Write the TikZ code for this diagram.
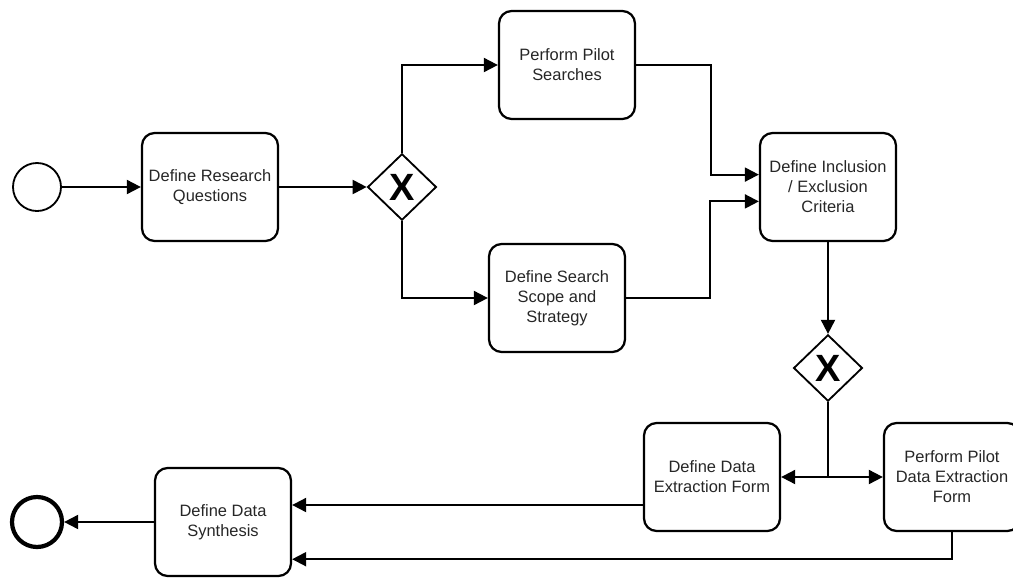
\documentclass[tikz,border=0pt]{standalone}
\usepackage{fontspec}
\setmainfont{Liberation Sans}
\usetikzlibrary{arrows.meta,shapes.geometric}

\tikzset{
  task/.style={draw,line width=1.6pt,rounded corners=9pt,minimum width=3.4cm,minimum height=2.7cm,
    align=center,font=\fontsize{11.7}{14.2}\selectfont,text=black!85},
  gateway/.style={draw,diamond,line width=1.3pt,inner sep=0pt,minimum width=1.72cm,minimum height=1.66cm,
    font=\fontsize{27}{27}\selectfont\bfseries},
  flow/.style={line width=1.4pt,-{Triangle[length=10pt,width=10pt]}},
  startevent/.style={draw,circle,line width=1.3pt,minimum size=1.2cm,inner sep=0pt},
  endevent/.style={draw,circle,line width=3pt,minimum size=1.25cm,inner sep=0pt}
}

\begin{document}
\begin{tikzpicture}[x=0.025cm,y=-0.025cm]
        \useasboundingbox (0,0) rectangle (1013,579);
        %% Events and tasks
        \node[startevent] (start) at (37,187) {};
        \node[task] (questions) at (210,187) {Define Research\\Questions};
        \node[gateway] (gwa) at (402,187) {X};
        \node[task] (pilot) at (567,65) {Perform Pilot\\Searches};
        \node[task] (scope) at (557,298) {Define Search\\Scope and\\Strategy};
        \node[task] (criteria) at (828,187) {Define Inclusion\\/ Exclusion\\Criteria};
        \node[gateway] (gwb) at (828,368) {X};
        \node[task] (form) at (712,477) {Define Data\\Extraction Form};
        \node[task] (pilotform) at (952,477) {Perform Pilot\\Data Extraction\\Form};
        \node[task] (synthesis) at (223,522) {Define Data\\Synthesis};
        \node[endevent] (end) at (37,522) {};
        %% Flows
        \draw[flow] (start) -- (questions);
        \draw[flow] (questions) -- (gwa);
        \draw[flow] (gwa.north) |- (pilot.west);
        \draw[flow] (gwa.south) |- (scope.west);
        \draw[flow] (pilot.east) -- ++(75,0) |- ([yshift=0.31cm]criteria.west);
        \draw[flow] (scope.east) -- ++(84,0) |- ([yshift=-0.36cm]criteria.west);
        \draw[flow] (criteria) -- (gwb);
        \draw[flow] (gwb.south) |- (form.east);
        \draw[flow] (gwb.south) |- (pilotform.west);
        \coordinate (formout) at ([yshift=-0.7cm]form.west);
        \draw[flow] (formout) -- (formout -| synthesis.east);
        \draw[flow] (pilotform.south) |- ([yshift=-0.93cm]synthesis.east);
        \draw[flow] (synthesis) -- (end);
\end{tikzpicture}
\end{document}
